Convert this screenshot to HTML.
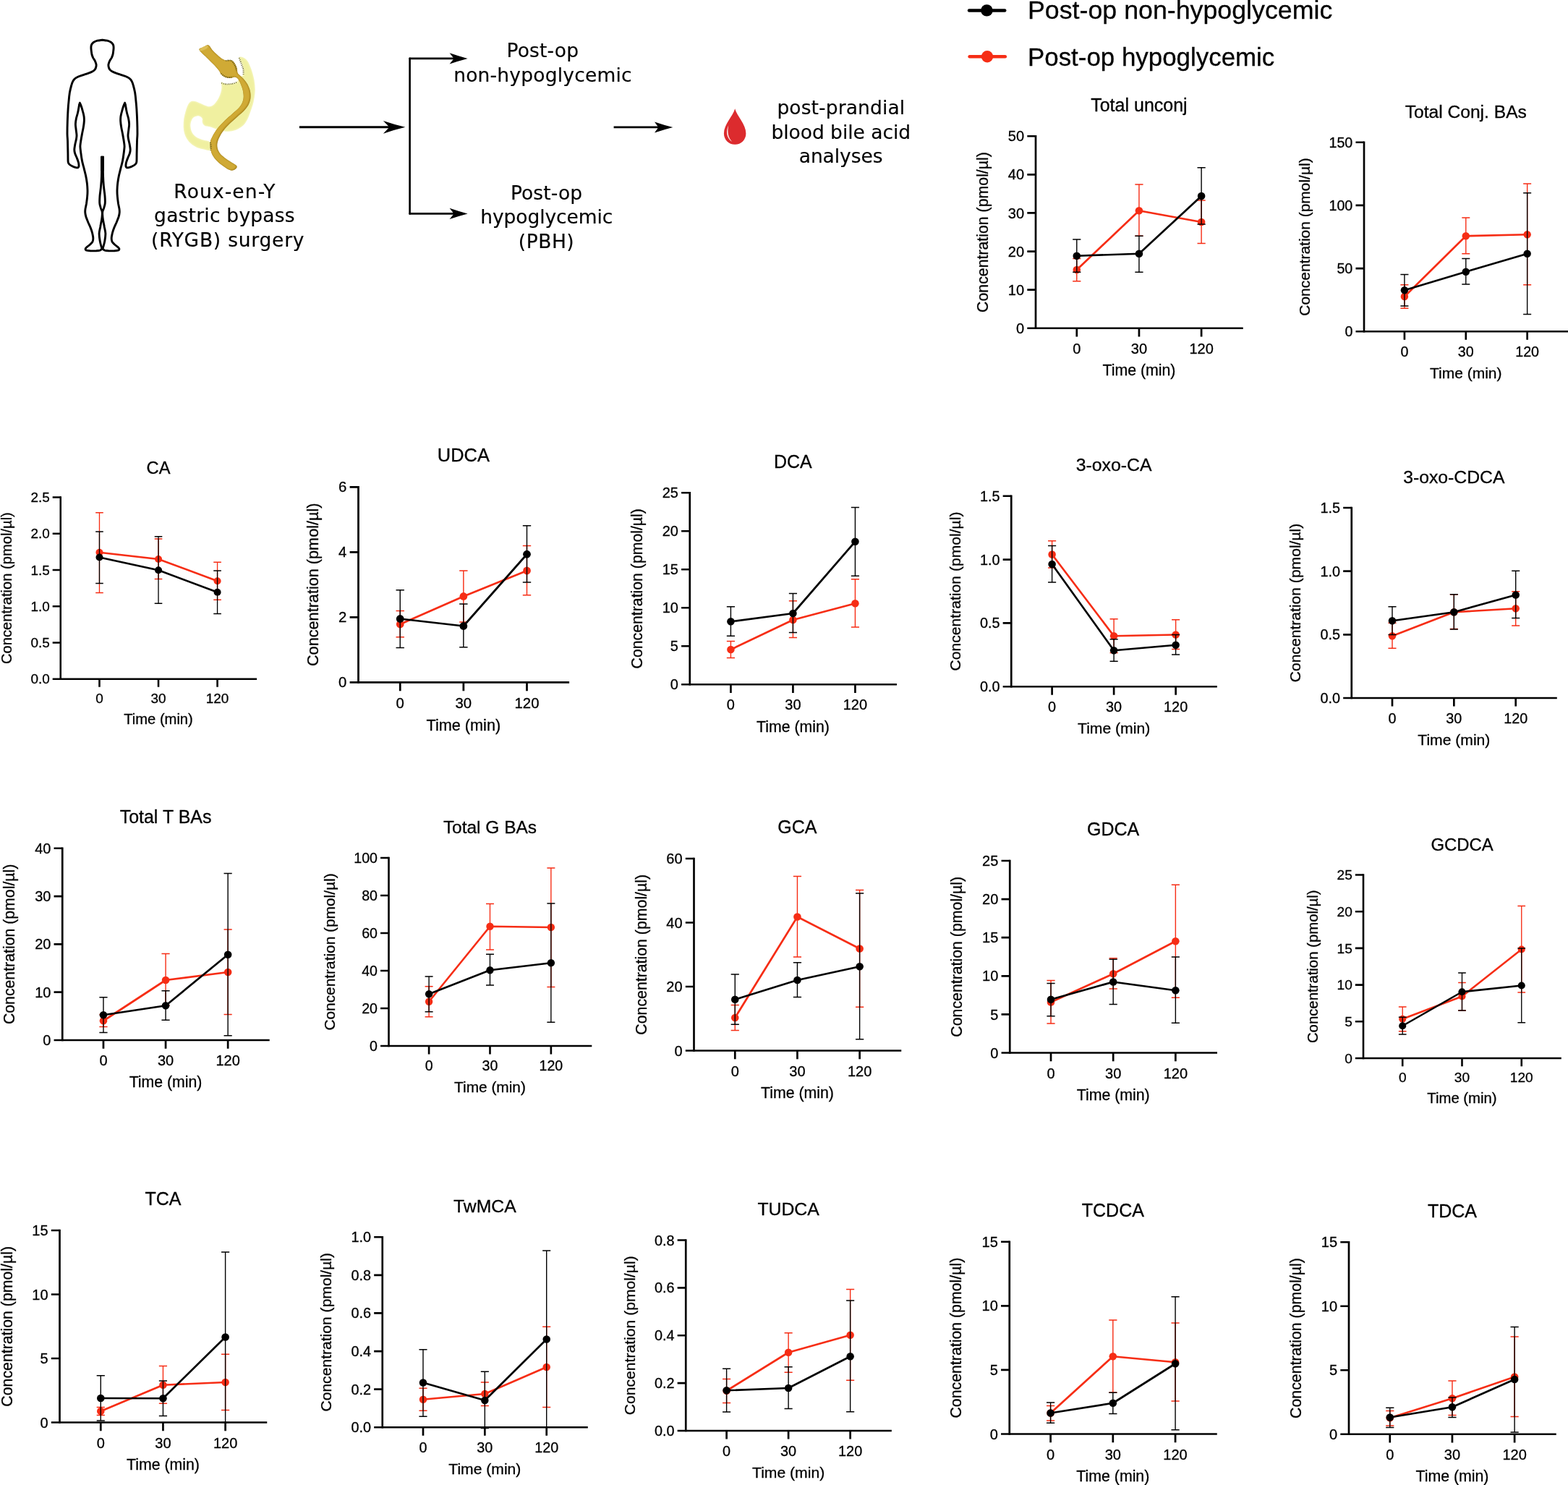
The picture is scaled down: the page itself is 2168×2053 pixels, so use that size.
<!DOCTYPE html>
<html lang="en">
<head>
<meta charset="utf-8">
<title>Post-prandial blood bile acid analyses after RYGB</title>
<style>
html,body{margin:0;padding:0;background:#fff;}
body{width:2168px;height:2053px;overflow:hidden;}
svg{display:block;}
svg text{font-family:"Liberation Sans", sans-serif;fill:#000;stroke:#000;stroke-width:.3px;}
svg .v text, svg text.v{font-family:"DejaVu Sans", sans-serif;stroke-width:.15px;}
</style>
</head>
<body>
<svg width="2168" height="2053" viewBox="0 0 2168 2053">
<rect width="2168" height="2053" fill="#fff"/>
<g id="schematic">
<path d="M141.5 55.2C140.4 55.4 136.8 55.7 134.8 56.2C132.9 56.7 131.1 57.5 129.7 58.3C128.4 59.2 127.4 60.3 126.7 61.5C126.1 62.7 125.9 64.1 125.9 65.6C125.8 67.1 126.1 69 126.3 70.7C126.5 72.4 126.7 74.3 127.1 75.8C127.6 77.4 128.1 78.7 128.8 80.1C129.6 81.5 130.7 82.9 131.4 84.3C132.1 85.8 132.7 87.3 132.9 88.6C133.2 89.9 133.2 90.8 132.9 92C132.7 93.2 132.2 94.7 131.4 95.9C130.6 97 129.7 97.9 128 98.8C126.3 99.8 123.7 100.7 121.2 101.6C118.6 102.5 115.1 103.5 112.6 104.4C110.2 105.2 108.3 105.8 106.7 106.7C105 107.5 103.9 108.4 102.8 109.5C101.8 110.6 101 111.9 100.3 113.3C99.6 114.8 99.2 116 98.6 118.5C97.9 120.9 97 124.6 96.4 127.8C95.9 131.1 95.5 134.2 95.2 138.1C94.8 141.9 94.4 145.9 94.1 150.9C93.8 155.8 93.5 162.2 93.3 167.9C93.1 173.6 93 180.6 93 185C93.1 189.4 93.3 189.9 93.5 194.3C93.6 198.7 93.8 206.5 93.9 211.3C94 216.2 93.9 220.7 94.1 223.3C94.4 225.8 94.6 225.8 95.6 226.8C96.5 227.9 98.3 228.9 99.9 229.7C101.4 230.5 103.7 231.3 105 231.6C106.2 232 106.9 232 107.5 231.8C108.2 231.5 108.8 231.2 109 230.1C109.1 228.9 109 227 108.6 225C108.1 223 107.1 220.3 106.2 218.1C105.4 216 104.3 214 103.7 212.2C103.1 210.3 102.8 209 102.8 207.1C102.8 205.1 103.3 202.7 103.7 200.2C104.1 197.8 105 194.8 105.4 192.6C105.8 190.3 106.1 189.1 106 186.7C105.9 184.3 105.2 180.7 105 178.2C104.7 175.6 104.3 173.8 104.4 171.3C104.4 168.9 104.9 166.2 105.4 163.7C105.9 161.1 107 158.4 107.5 156C108.1 153.6 108.5 151.1 108.8 149.2C109.2 147.2 109.4 145.6 109.7 144.5C109.9 143.3 110.3 142.7 110.4 142.3M141.5 55.2C142.6 55.4 146.2 55.7 148.2 56.2C150.1 56.7 151.9 57.5 153.3 58.3C154.6 59.2 155.6 60.3 156.3 61.5C156.9 62.7 157.1 64.1 157.1 65.6C157.2 67.1 156.9 69 156.7 70.7C156.5 72.4 156.3 74.3 155.9 75.8C155.4 77.4 154.9 78.7 154.2 80.1C153.4 81.5 152.3 82.9 151.6 84.3C150.9 85.8 150.3 87.3 150.1 88.6C149.8 89.9 149.8 90.8 150.1 92C150.3 93.2 150.8 94.7 151.6 95.9C152.4 97 153.3 97.9 155 98.8C156.7 99.8 159.3 100.7 161.8 101.6C164.4 102.5 167.9 103.5 170.4 104.4C172.8 105.2 174.7 105.8 176.3 106.7C178 107.5 179.1 108.4 180.2 109.5C181.2 110.6 182 111.9 182.7 113.3C183.4 114.8 183.8 116 184.4 118.5C185.1 120.9 186 124.6 186.6 127.8C187.1 131.1 187.5 134.2 187.8 138.1C188.2 141.9 188.6 145.9 188.9 150.9C189.2 155.8 189.5 162.2 189.7 167.9C189.9 173.6 190 180.6 190 185C189.9 189.4 189.7 189.9 189.5 194.3C189.4 198.7 189.2 206.5 189.1 211.3C189 216.2 189.1 220.7 188.9 223.3C188.6 225.8 188.4 225.8 187.4 226.8C186.5 227.9 184.7 228.9 183.1 229.7C181.6 230.5 179.3 231.3 178 231.6C176.8 232 176.1 232 175.5 231.8C174.8 231.5 174.2 231.2 174 230.1C173.9 228.9 174 227 174.4 225C174.9 223 175.9 220.3 176.8 218.1C177.6 216 178.7 214 179.3 212.2C179.9 210.3 180.2 209 180.2 207.1C180.2 205.1 179.7 202.7 179.3 200.2C178.9 197.8 178 194.8 177.6 192.6C177.2 190.3 176.9 189.1 177 186.7C177.1 184.3 177.8 180.7 178 178.2C178.3 175.6 178.7 173.8 178.6 171.3C178.6 168.9 178.1 166.2 177.6 163.7C177.1 161.1 176 158.4 175.5 156C174.9 153.6 174.5 151.1 174.2 149.2C173.8 147.2 173.6 145.6 173.3 144.5C173.1 143.3 172.7 142.7 172.6 142.3M110.4 142.3C110.7 143.1 111.6 144.8 112.2 146.6C112.9 148.5 113.7 151 114.3 153.4C115 155.8 115.7 158.7 116.1 161.1C116.4 163.5 116.5 165.4 116.3 167.9C116.2 170.5 115.7 173.6 115.2 176.5C114.7 179.3 114.1 181.7 113.5 185C112.9 188.3 112 193.1 111.6 196.1C111.2 199 110.9 200.3 110.9 202.8C111 205.3 111.4 208.1 111.8 211.3C112.2 214.6 112.8 218.9 113.5 222.4C114.2 226 115.2 229.2 116.1 232.6C116.9 236.1 117.9 239.5 118.6 242.9C119.3 246.3 119.9 249.8 120.3 253.1C120.7 256.4 120.9 259.5 121 262.5C121.1 265.5 121 267.9 120.7 271C120.5 274.2 119.9 278.3 119.5 281.3C119 284.2 118.3 286.8 118 288.9C117.7 291.1 117.6 292.2 117.8 294.1C117.9 295.9 118.3 297.7 119 300C119.8 302.3 121 305.1 122 307.7C123.1 310.3 124.5 313 125.4 315.4C126.4 317.8 127 319.9 127.6 322.2C128.1 324.5 128.8 327 128.8 329C128.9 331 128.7 332.6 128 334.1C127.3 335.6 125.9 336.8 124.6 338C123.3 339.2 121.4 340.4 120.3 341.4C119.3 342.4 118.4 343.2 118.2 343.9C118 344.7 118 345.4 119 345.9C120.1 346.4 122.2 346.6 124.6 346.8C126.9 346.9 130.8 346.9 133.1 346.8C135.4 346.6 137 346.4 138.2 346.1C139.5 345.7 139.9 345.1 140.4 344.5C141 344 141.2 343 141.3 342.7M172.6 142.3C172.3 143.1 171.4 144.8 170.8 146.6C170.1 148.5 169.3 151 168.7 153.4C168 155.8 167.3 158.7 166.9 161.1C166.6 163.5 166.5 165.4 166.7 167.9C166.8 170.5 167.3 173.6 167.8 176.5C168.3 179.3 168.9 181.7 169.5 185C170.1 188.3 171 193.1 171.4 196.1C171.8 199 172.1 200.3 172.1 202.8C172 205.3 171.6 208.1 171.2 211.3C170.8 214.6 170.2 218.9 169.5 222.4C168.8 226 167.8 229.2 166.9 232.6C166.1 236.1 165.1 239.5 164.4 242.9C163.7 246.3 163.1 249.8 162.7 253.1C162.3 256.4 162.1 259.5 162 262.5C161.9 265.5 162 267.9 162.3 271C162.5 274.2 163.1 278.3 163.5 281.3C164 284.2 164.7 286.8 165 288.9C165.3 291.1 165.4 292.2 165.2 294.1C165.1 295.9 164.7 297.7 164 300C163.2 302.3 162 305.1 161 307.7C159.9 310.3 158.5 313 157.6 315.4C156.6 317.8 156 319.9 155.4 322.2C154.9 324.5 154.2 327 154.2 329C154.1 331 154.3 332.6 155 334.1C155.7 335.6 157.1 336.8 158.4 338C159.7 339.2 161.6 340.4 162.7 341.4C163.7 342.4 164.6 343.2 164.8 343.9C165 344.7 165 345.4 164 345.9C162.9 346.4 160.8 346.6 158.4 346.8C156.1 346.9 152.2 346.9 149.9 346.8C147.6 346.6 146 346.4 144.8 346.1C143.5 345.7 143.1 345.1 142.6 344.5C142 344 141.8 343 141.7 342.7M140.6 216.9C140.6 219.5 140.6 228 140.6 232.6C140.6 237.3 140.6 240.3 140.4 244.6C140.3 248.8 139.9 253.8 139.5 258.2C139.1 262.6 138.3 267.2 138 271C137.7 274.9 137.5 278.4 137.8 281.3C138.1 284.1 139 286.2 139.5 288.1C140.1 289.9 140.8 290.9 141.1 292.3C141.4 293.8 141.4 294.8 141.3 296.6C141.2 298.5 141.1 300.6 140.6 303.4C140.2 306.3 139.2 310.4 138.7 313.7C138.1 316.9 137.2 319.8 137.1 323C137.1 326.3 137.7 330.3 138.2 333.3C138.7 336.3 139.6 339.1 140.1 341C140.6 342.8 141.1 343.8 141.3 344.4M142.4 216.9C142.4 219.5 142.4 228 142.4 232.6C142.4 237.3 142.4 240.3 142.6 244.6C142.7 248.8 143.1 253.8 143.5 258.2C143.9 262.6 144.7 267.2 145 271C145.3 274.9 145.5 278.4 145.2 281.3C144.9 284.1 144 286.2 143.5 288.1C142.9 289.9 142.2 290.9 141.9 292.3C141.6 293.8 141.6 294.8 141.7 296.6C141.8 298.5 141.9 300.6 142.4 303.4C142.8 306.3 143.8 310.4 144.3 313.7C144.9 316.9 145.8 319.8 145.9 323C145.9 326.3 145.3 330.3 144.8 333.3C144.3 336.3 143.4 339.1 142.9 341C142.4 342.8 141.9 343.8 141.7 344.4" fill="none" stroke="#000" stroke-width="2.9" stroke-linecap="round" stroke-linejoin="round"/>
<path d="M139.1 216.2h4.8v20h-4.8z" fill="#000"/>
<defs><clipPath id="cpp"><path d="M305.9 113.3C306.8 112.5 309.4 115.7 312 116C314.5 116.4 318.6 116.1 321.1 115.6C323.6 115.2 325.3 114.8 327.2 113.3C329 111.8 330.7 108.5 332.2 106.7C333.8 104.9 335.8 105.4 336.3 102.7C336.8 100 336.3 94.4 335.3 90.5C334.3 86.7 330 81.4 330.2 79.6C330.4 77.7 334.3 78.6 336.3 79.4C338.3 80.2 340.5 81.7 342.4 84.4C344.2 87.1 345.9 91.2 347.4 95.6C348.9 100 350.6 105.7 351.5 110.8C352.4 115.8 352.9 120.9 352.7 126C352.5 131 351.5 136.4 350.5 141.2C349.4 145.9 347.8 150.4 346.4 154.3C345.1 158.2 344.1 161.2 342.4 164.5C340.7 167.7 339 171 336.3 173.6C333.6 176.1 329.5 178.5 326.2 179.8C322.8 181.2 318.9 181.5 316 181.7C313.2 181.9 311.6 181.6 308.9 181.2C306.2 180.7 302.7 179.7 299.8 178.8C297 177.9 294.3 176.5 291.7 175.8C289.2 175.1 286.5 175.3 284.6 174.6C282.8 173.9 281.6 172.7 280.8 171.5C279.9 170.4 279.7 168.7 279.6 167.5C279.4 166.3 280.2 165.5 279.9 164.5C279.5 163.4 278.8 162.1 277.5 161.4C276.3 160.7 274.2 160.2 272.5 160.4C270.8 160.6 268.8 161.2 267.4 162.4C266.1 163.6 265 165.5 264.4 167.5C263.7 169.5 263.2 172.1 263.4 174.6C263.5 177.1 264.2 180.3 265.4 182.7C266.6 185 268.3 187.1 270.5 188.8C272.6 190.5 275.3 191.6 278.6 192.8C281.8 194 288 194.5 290.2 196.1C292.4 197.6 291.6 199.9 291.7 201.9C291.8 203.9 292.8 207.3 290.9 208C289.1 208.7 284 207 280.6 206.2C277.2 205.3 273.7 204.7 270.5 202.9C267.2 201.2 263.8 198.6 261.3 195.9C258.9 193.2 257 189.9 255.8 186.7C254.5 183.5 254 180.3 253.7 176.6C253.5 172.9 253.7 168.3 254.2 164.5C254.8 160.6 255.8 156.7 256.8 153.3C257.8 149.9 259.1 146.4 260.3 144.2C261.6 142 262.9 140.8 264.4 140.1C265.9 139.5 267.6 139.8 269.4 140.1C271.3 140.5 273.2 141.2 275.5 142.2C277.9 143.1 281.3 144.9 283.6 145.7C286 146.6 287.7 147.5 289.7 147.2C291.7 147 293.9 145.9 295.8 144.4C297.6 142.9 299.3 140.7 300.8 138.1C302.4 135.6 304 131.9 304.9 129C305.8 126.1 306.2 123.5 306.4 120.9C306.6 118.3 305 114.1 305.9 113.3Z"/></clipPath><clipPath id="cpg"><path d="M275.5 68.7C276.2 71.1 282.3 75.9 285.6 79.4C289 82.8 292.9 86.4 295.8 89.5C298.6 92.6 301.3 95.8 302.9 97.8C304.4 99.8 304 100.5 304.9 101.7C305.7 102.8 306.6 103.8 307.9 104.7C309.3 105.6 311.1 106.7 313 107.2C314.8 107.8 317.2 108.1 319.1 107.9C320.9 107.8 322.6 106.5 324.1 106.5C325.7 106.6 327 107.2 328.2 108.2C329.4 109.3 330 110.3 331.2 112.8C332.4 115.2 334.3 119.5 335.3 122.9C336.2 126.3 336.8 130 336.8 133.1C336.8 136.1 336.4 138.5 335.3 141.2C334.2 143.9 332.6 146.6 330.2 149.3C327.8 152 324.3 154.5 321.1 157.4C317.9 160.2 314.3 163.1 311 166.5C307.6 169.9 303.7 173.9 300.8 177.6C298 181.3 295.4 185.6 293.7 188.8C292.1 192 291.1 193.8 290.7 196.9C290.3 199.9 290.5 203.8 291.2 207C291.9 210.2 293 213.2 294.8 216.1C296.5 219 299.1 221.7 301.8 224.2C304.5 226.7 308.4 229.5 311 231.3C313.5 233.1 315.2 234.1 317 234.8C318.9 235.6 320.5 235.9 322.1 235.6C323.7 235.2 325.8 233.8 326.7 232.8C327.5 231.8 328 230.6 327.4 229.5C326.8 228.4 325.2 227.6 323.1 226.2C321.1 224.9 317.7 223 315 221.2C312.3 219.3 309.1 217.3 306.9 215.1C304.7 212.9 302.9 210.5 301.8 208C300.8 205.5 300.2 202.8 300.3 199.9C300.5 197 301.4 194 302.9 190.8C304.3 187.6 306.4 184 308.9 180.7C311.5 177.3 314.8 173.7 318.1 170.5C321.3 167.3 325 164.3 328.2 161.4C331.4 158.5 334.8 156 337.3 153.3C339.8 150.6 341.9 148.1 343.4 145.2C344.9 142.3 346 139.3 346.4 136.1C346.8 132.9 346.6 129.2 345.9 126C345.2 122.8 343.8 119.5 342.4 116.8C340.9 114.1 339 111.8 337.3 109.8C335.6 107.7 333.7 106.1 332.2 104.7C330.8 103.3 329.4 102.8 328.7 101.1C327.9 99.5 328.2 96.5 327.7 94.6C327.2 92.6 326.6 91.2 325.7 89.5C324.7 87.8 323.4 85.7 322.1 84.6C320.8 83.5 319.7 83.1 318.1 82.9C316.4 82.7 314 83.8 312 83.4C310 83 307.9 81.7 305.9 80.4C303.9 79 301.8 77.2 299.8 75.3C297.8 73.5 295.7 71.4 293.7 69.2C291.8 67.1 290.2 63.1 288.2 62.5C286.1 61.8 283.7 64.1 281.6 65.2C279.5 66.2 274.8 66.4 275.5 68.7Z"/></clipPath><filter id="bl1" x="-20%" y="-20%" width="140%" height="140%"><feGaussianBlur stdDeviation="1.6"/></filter><filter id="bl2" x="-20%" y="-20%" width="140%" height="140%"><feGaussianBlur stdDeviation="1.3"/></filter></defs>
<path d="M305.9 113.3C306.8 112.5 309.4 115.7 312 116C314.5 116.4 318.6 116.1 321.1 115.6C323.6 115.2 325.3 114.8 327.2 113.3C329 111.8 330.7 108.5 332.2 106.7C333.8 104.9 335.8 105.4 336.3 102.7C336.8 100 336.3 94.4 335.3 90.5C334.3 86.7 330 81.4 330.2 79.6C330.4 77.7 334.3 78.6 336.3 79.4C338.3 80.2 340.5 81.7 342.4 84.4C344.2 87.1 345.9 91.2 347.4 95.6C348.9 100 350.6 105.7 351.5 110.8C352.4 115.8 352.9 120.9 352.7 126C352.5 131 351.5 136.4 350.5 141.2C349.4 145.9 347.8 150.4 346.4 154.3C345.1 158.2 344.1 161.2 342.4 164.5C340.7 167.7 339 171 336.3 173.6C333.6 176.1 329.5 178.5 326.2 179.8C322.8 181.2 318.9 181.5 316 181.7C313.2 181.9 311.6 181.6 308.9 181.2C306.2 180.7 302.7 179.7 299.8 178.8C297 177.9 294.3 176.5 291.7 175.8C289.2 175.1 286.5 175.3 284.6 174.6C282.8 173.9 281.6 172.7 280.8 171.5C279.9 170.4 279.7 168.7 279.6 167.5C279.4 166.3 280.2 165.5 279.9 164.5C279.5 163.4 278.8 162.1 277.5 161.4C276.3 160.7 274.2 160.2 272.5 160.4C270.8 160.6 268.8 161.2 267.4 162.4C266.1 163.6 265 165.5 264.4 167.5C263.7 169.5 263.2 172.1 263.4 174.6C263.5 177.1 264.2 180.3 265.4 182.7C266.6 185 268.3 187.1 270.5 188.8C272.6 190.5 275.3 191.6 278.6 192.8C281.8 194 288 194.5 290.2 196.1C292.4 197.6 291.6 199.9 291.7 201.9C291.8 203.9 292.8 207.3 290.9 208C289.1 208.7 284 207 280.6 206.2C277.2 205.3 273.7 204.7 270.5 202.9C267.2 201.2 263.8 198.6 261.3 195.9C258.9 193.2 257 189.9 255.8 186.7C254.5 183.5 254 180.3 253.7 176.6C253.5 172.9 253.7 168.3 254.2 164.5C254.8 160.6 255.8 156.7 256.8 153.3C257.8 149.9 259.1 146.4 260.3 144.2C261.6 142 262.9 140.8 264.4 140.1C265.9 139.5 267.6 139.8 269.4 140.1C271.3 140.5 273.2 141.2 275.5 142.2C277.9 143.1 281.3 144.9 283.6 145.7C286 146.6 287.7 147.5 289.7 147.2C291.7 147 293.9 145.9 295.8 144.4C297.6 142.9 299.3 140.7 300.8 138.1C302.4 135.6 304 131.9 304.9 129C305.8 126.1 306.2 123.5 306.4 120.9C306.6 118.3 305 114.1 305.9 113.3Z" fill="#fbfbdc"/>
<g clip-path="url(#cpp)"><path d="M305.9 113.3C306.8 112.5 309.4 115.7 312 116C314.5 116.4 318.6 116.1 321.1 115.6C323.6 115.2 325.3 114.8 327.2 113.3C329 111.8 330.7 108.5 332.2 106.7C333.8 104.9 335.8 105.4 336.3 102.7C336.8 100 336.3 94.4 335.3 90.5C334.3 86.7 330 81.4 330.2 79.6C330.4 77.7 334.3 78.6 336.3 79.4C338.3 80.2 340.5 81.7 342.4 84.4C344.2 87.1 345.9 91.2 347.4 95.6C348.9 100 350.6 105.7 351.5 110.8C352.4 115.8 352.9 120.9 352.7 126C352.5 131 351.5 136.4 350.5 141.2C349.4 145.9 347.8 150.4 346.4 154.3C345.1 158.2 344.1 161.2 342.4 164.5C340.7 167.7 339 171 336.3 173.6C333.6 176.1 329.5 178.5 326.2 179.8C322.8 181.2 318.9 181.5 316 181.7C313.2 181.9 311.6 181.6 308.9 181.2C306.2 180.7 302.7 179.7 299.8 178.8C297 177.9 294.3 176.5 291.7 175.8C289.2 175.1 286.5 175.3 284.6 174.6C282.8 173.9 281.6 172.7 280.8 171.5C279.9 170.4 279.7 168.7 279.6 167.5C279.4 166.3 280.2 165.5 279.9 164.5C279.5 163.4 278.8 162.1 277.5 161.4C276.3 160.7 274.2 160.2 272.5 160.4C270.8 160.6 268.8 161.2 267.4 162.4C266.1 163.6 265 165.5 264.4 167.5C263.7 169.5 263.2 172.1 263.4 174.6C263.5 177.1 264.2 180.3 265.4 182.7C266.6 185 268.3 187.1 270.5 188.8C272.6 190.5 275.3 191.6 278.6 192.8C281.8 194 288 194.5 290.2 196.1C292.4 197.6 291.6 199.9 291.7 201.9C291.8 203.9 292.8 207.3 290.9 208C289.1 208.7 284 207 280.6 206.2C277.2 205.3 273.7 204.7 270.5 202.9C267.2 201.2 263.8 198.6 261.3 195.9C258.9 193.2 257 189.9 255.8 186.7C254.5 183.5 254 180.3 253.7 176.6C253.5 172.9 253.7 168.3 254.2 164.5C254.8 160.6 255.8 156.7 256.8 153.3C257.8 149.9 259.1 146.4 260.3 144.2C261.6 142 262.9 140.8 264.4 140.1C265.9 139.5 267.6 139.8 269.4 140.1C271.3 140.5 273.2 141.2 275.5 142.2C277.9 143.1 281.3 144.9 283.6 145.7C286 146.6 287.7 147.5 289.7 147.2C291.7 147 293.9 145.9 295.8 144.4C297.6 142.9 299.3 140.7 300.8 138.1C302.4 135.6 304 131.9 304.9 129C305.8 126.1 306.2 123.5 306.4 120.9C306.6 118.3 305 114.1 305.9 113.3Z" fill="#f0f0a0" filter="url(#bl1)"/></g>
<path d="M275.5 68.7C276.2 71.1 282.3 75.9 285.6 79.4C289 82.8 292.9 86.4 295.8 89.5C298.6 92.6 301.3 95.8 302.9 97.8C304.4 99.8 304 100.5 304.9 101.7C305.7 102.8 306.6 103.8 307.9 104.7C309.3 105.6 311.1 106.7 313 107.2C314.8 107.8 317.2 108.1 319.1 107.9C320.9 107.8 322.6 106.5 324.1 106.5C325.7 106.6 327 107.2 328.2 108.2C329.4 109.3 330 110.3 331.2 112.8C332.4 115.2 334.3 119.5 335.3 122.9C336.2 126.3 336.8 130 336.8 133.1C336.8 136.1 336.4 138.5 335.3 141.2C334.2 143.9 332.6 146.6 330.2 149.3C327.8 152 324.3 154.5 321.1 157.4C317.9 160.2 314.3 163.1 311 166.5C307.6 169.9 303.7 173.9 300.8 177.6C298 181.3 295.4 185.6 293.7 188.8C292.1 192 291.1 193.8 290.7 196.9C290.3 199.9 290.5 203.8 291.2 207C291.9 210.2 293 213.2 294.8 216.1C296.5 219 299.1 221.7 301.8 224.2C304.5 226.7 308.4 229.5 311 231.3C313.5 233.1 315.2 234.1 317 234.8C318.9 235.6 320.5 235.9 322.1 235.6C323.7 235.2 325.8 233.8 326.7 232.8C327.5 231.8 328 230.6 327.4 229.5C326.8 228.4 325.2 227.6 323.1 226.2C321.1 224.9 317.7 223 315 221.2C312.3 219.3 309.1 217.3 306.9 215.1C304.7 212.9 302.9 210.5 301.8 208C300.8 205.5 300.2 202.8 300.3 199.9C300.5 197 301.4 194 302.9 190.8C304.3 187.6 306.4 184 308.9 180.7C311.5 177.3 314.8 173.7 318.1 170.5C321.3 167.3 325 164.3 328.2 161.4C331.4 158.5 334.8 156 337.3 153.3C339.8 150.6 341.9 148.1 343.4 145.2C344.9 142.3 346 139.3 346.4 136.1C346.8 132.9 346.6 129.2 345.9 126C345.2 122.8 343.8 119.5 342.4 116.8C340.9 114.1 339 111.8 337.3 109.8C335.6 107.7 333.7 106.1 332.2 104.7C330.8 103.3 329.4 102.8 328.7 101.1C327.9 99.5 328.2 96.5 327.7 94.6C327.2 92.6 326.6 91.2 325.7 89.5C324.7 87.8 323.4 85.7 322.1 84.6C320.8 83.5 319.7 83.1 318.1 82.9C316.4 82.7 314 83.8 312 83.4C310 83 307.9 81.7 305.9 80.4C303.9 79 301.8 77.2 299.8 75.3C297.8 73.5 295.7 71.4 293.7 69.2C291.8 67.1 290.2 63.1 288.2 62.5C286.1 61.8 283.7 64.1 281.6 65.2C279.5 66.2 274.8 66.4 275.5 68.7Z" fill="#9a7612"/>
<g clip-path="url(#cpg)"><path d="M275.5 68.7C276.2 71.1 282.3 75.9 285.6 79.4C289 82.8 292.9 86.4 295.8 89.5C298.6 92.6 301.3 95.8 302.9 97.8C304.4 99.8 304 100.5 304.9 101.7C305.7 102.8 306.6 103.8 307.9 104.7C309.3 105.6 311.1 106.7 313 107.2C314.8 107.8 317.2 108.1 319.1 107.9C320.9 107.8 322.6 106.5 324.1 106.5C325.7 106.6 327 107.2 328.2 108.2C329.4 109.3 330 110.3 331.2 112.8C332.4 115.2 334.3 119.5 335.3 122.9C336.2 126.3 336.8 130 336.8 133.1C336.8 136.1 336.4 138.5 335.3 141.2C334.2 143.9 332.6 146.6 330.2 149.3C327.8 152 324.3 154.5 321.1 157.4C317.9 160.2 314.3 163.1 311 166.5C307.6 169.9 303.7 173.9 300.8 177.6C298 181.3 295.4 185.6 293.7 188.8C292.1 192 291.1 193.8 290.7 196.9C290.3 199.9 290.5 203.8 291.2 207C291.9 210.2 293 213.2 294.8 216.1C296.5 219 299.1 221.7 301.8 224.2C304.5 226.7 308.4 229.5 311 231.3C313.5 233.1 315.2 234.1 317 234.8C318.9 235.6 320.5 235.9 322.1 235.6C323.7 235.2 325.8 233.8 326.7 232.8C327.5 231.8 328 230.6 327.4 229.5C326.8 228.4 325.2 227.6 323.1 226.2C321.1 224.9 317.7 223 315 221.2C312.3 219.3 309.1 217.3 306.9 215.1C304.7 212.9 302.9 210.5 301.8 208C300.8 205.5 300.2 202.8 300.3 199.9C300.5 197 301.4 194 302.9 190.8C304.3 187.6 306.4 184 308.9 180.7C311.5 177.3 314.8 173.7 318.1 170.5C321.3 167.3 325 164.3 328.2 161.4C331.4 158.5 334.8 156 337.3 153.3C339.8 150.6 341.9 148.1 343.4 145.2C344.9 142.3 346 139.3 346.4 136.1C346.8 132.9 346.6 129.2 345.9 126C345.2 122.8 343.8 119.5 342.4 116.8C340.9 114.1 339 111.8 337.3 109.8C335.6 107.7 333.7 106.1 332.2 104.7C330.8 103.3 329.4 102.8 328.7 101.1C327.9 99.5 328.2 96.5 327.7 94.6C327.2 92.6 326.6 91.2 325.7 89.5C324.7 87.8 323.4 85.7 322.1 84.6C320.8 83.5 319.7 83.1 318.1 82.9C316.4 82.7 314 83.8 312 83.4C310 83 307.9 81.7 305.9 80.4C303.9 79 301.8 77.2 299.8 75.3C297.8 73.5 295.7 71.4 293.7 69.2C291.8 67.1 290.2 63.1 288.2 62.5C286.1 61.8 283.7 64.1 281.6 65.2C279.5 66.2 274.8 66.4 275.5 68.7Z" fill="#d0aa34" filter="url(#bl2)" transform="translate(-0.8 -0.5)"/></g>
<ellipse cx="281.8" cy="66.8" rx="6.6" ry="2.3" transform="rotate(-27 281.8 66.8)" fill="#dcbe55"/>
<path d="M306.4 114.8C307.3 115.1 309.5 116.2 312 116.3C314.4 116.5 318.5 116.3 321.1 115.8C323.7 115.4 326.3 114 327.4 113.6" fill="none" stroke="#4f4a18" stroke-width="2" stroke-dasharray="0.9 1.6"/>
<path d="M330.7 80.2C331.2 81.6 332.8 85.9 333.8 88.5C334.7 91.1 335.8 93.2 336.3 95.6C336.7 97.9 336.5 101.5 336.5 102.7" fill="none" stroke="#4f4a18" stroke-width="2" stroke-dasharray="0.9 1.6"/>
<path d="M312.5 83.9C313.6 83.9 317.3 83 319.1 83.6C320.8 84.2 321.8 86 322.9 87.5C324 89 325 90.9 325.7 92.5C326.3 94.2 326.5 96.8 326.7 97.6" fill="none" stroke="#4f4a18" stroke-width="2" stroke-dasharray="0.9 1.6"/>
<path d="M305.9 101.7C306.6 102.2 308.4 104.3 310 105.2C311.5 106.1 313.3 106.7 315 106.9C316.7 107.2 319.2 106.8 320.1 106.7" fill="none" stroke="#4f4a18" stroke-width="2" stroke-dasharray="0.9 1.6"/>
<path d="M290.9 196.9C291 197.7 291.7 200.2 291.7 201.9C291.8 203.7 291.3 206.6 291.2 207.5" fill="none" stroke="#4f4a18" stroke-width="2" stroke-dasharray="0.9 1.6"/>
<path d="M413.9 175.8H539.4" stroke="#000" stroke-width="3.1" fill="none" stroke-linecap="butt"/><path d="M560.4 175.8Q545.1 172.2 529.9 167Q535.2 172.5 538.4 175.8Q535.2 179.2 529.9 184.7Q545.1 179.5 560.4 175.8Z" fill="#000"/>
<path d="M566.6 80.9V295.4" stroke="#000" stroke-width="2.6" fill="none" stroke-linecap="round"/>
<path d="M566.6 80.9H628.6" stroke="#000" stroke-width="2.6" fill="none" stroke-linecap="round"/><path d="M646.6 80.9Q634.1 77.7 621.6 73.3Q625.3 78 627.6 80.9Q625.3 83.8 621.6 88.5Q634.1 84.1 646.6 80.9Z" fill="#000"/>
<path d="M566.6 295.4H628.6" stroke="#000" stroke-width="2.6" fill="none" stroke-linecap="round"/><path d="M646.6 295.4Q634.1 292.2 621.6 287.8Q625.3 292.5 627.6 295.4Q625.3 298.3 621.6 303Q634.1 298.6 646.6 295.4Z" fill="#000"/>
<path d="M848.6 175.9H911.4" stroke="#000" stroke-width="2.8" fill="none" stroke-linecap="butt"/><path d="M930.4 175.9Q917.7 172.8 905 168.4Q908.3 173.1 910.4 175.9Q908.3 178.8 905 183.4Q917.7 179.1 930.4 175.9Z" fill="#000"/>
<path d="M1016.2 150.2C1013.4 160.5 1000.9 171.6 1000.9 184.4C1000.9 193.2 1007.6 199.8 1016.2 199.8C1024.8 199.8 1031.4 193.2 1031.4 184.4C1031.4 171.6 1019 160.5 1016.2 150.2Z" fill="#dc2b2e"/>
<path d="M1007.3 173.2C1003.6 180.6 1003.8 190.8 1012.4 196.1C1006.6 190.2 1005.4 182 1007.3 173.2Z" fill="#fff" opacity=".92"/>
<text class="v" x="240.3" y="273.6" font-size="26.5" textLength="140.1" lengthAdjust="spacing">Roux-en-Y</text>
<text class="v" x="213.1" y="306.7" font-size="26.5" textLength="194.5" lengthAdjust="spacing">gastric bypass</text>
<text class="v" x="209.1" y="341" font-size="26.5" textLength="211.4" lengthAdjust="spacing">(RYGB) surgery</text>
<text class="v" x="700.4" y="79" font-size="26.5" textLength="99.7" lengthAdjust="spacing">Post-op</text>
<text class="v" x="627.2" y="112.7" font-size="26.5" textLength="246.4" lengthAdjust="spacing">non-hypoglycemic</text>
<text class="v" x="705.9" y="275.8" font-size="26.5" textLength="99.2" lengthAdjust="spacing">Post-op</text>
<text class="v" x="664.3" y="309.4" font-size="26.5" textLength="183" lengthAdjust="spacing">hypoglycemic</text>
<text class="v" x="716.8" y="343.4" font-size="26.5" textLength="76.9" lengthAdjust="spacing">(PBH)</text>
<text class="v" x="1074.4" y="157.7" font-size="26.5" textLength="176.8" lengthAdjust="spacing">post-prandial</text>
<text class="v" x="1066.5" y="191.8" font-size="26.5" textLength="192.6" lengthAdjust="spacing">blood bile acid</text>
<text class="v" x="1104.7" y="225.3" font-size="26.5" textLength="115.8" lengthAdjust="spacing">analyses</text>
</g>
<g font-size="35.4">
<path d="M1340 14.4H1389.2" stroke="#000" stroke-width="4.5" stroke-linecap="round"/>
<circle cx="1364.4" cy="14.4" r="8.2" fill="#000"/>
<text x="1421" y="26.4" font-size="35.75">Post-op non-hypoglycemic</text>
<path d="M1340.6 78.2H1389.8" stroke="#f62d15" stroke-width="4.5" stroke-linecap="round"/>
<circle cx="1365" cy="78.2" r="8.2" fill="#f62d15"/>
<text x="1421" y="90.8" font-size="34.9">Post-op hypoglycemic</text>
</g>
<g class="chart">
<path d="M1432 186.9V455.1" stroke="#000" stroke-width="2.7" fill="none"/>
<path d="M1420.3 453.75H1718.74" stroke="#000" stroke-width="2.7" fill="none"/>
<path d="M1420.3 400.65H1432M1420.3 347.55H1432M1420.3 294.45H1432M1420.3 241.35H1432M1420.3 188.25H1432M1488.77 453.75V465.45M1574.94 453.75V465.45M1661.11 453.75V465.45" stroke="#000" stroke-width="2.7" fill="none"/>
<g font-size="20" text-anchor="end">
<text x="1416.1" y="460.85">0</text>
<text x="1416.1" y="407.75">10</text>
<text x="1416.1" y="354.65">20</text>
<text x="1416.1" y="301.55">30</text>
<text x="1416.1" y="248.45">40</text>
<text x="1416.1" y="195.35">50</text>
</g>
<g font-size="20" text-anchor="middle">
<text x="1488.77" y="488.75">0</text>
<text x="1574.94" y="488.75">30</text>
<text x="1661.11" y="488.75">120</text>
</g>
<text font-size="21.3" text-anchor="middle" x="1574.94" y="519.15">Time (min)</text>
<text font-size="21.3" text-anchor="middle" transform="translate(1365.85 321) rotate(-90)">Concentration (pmol/µl)</text>
<text font-size="25" text-anchor="middle" x="1574.94" y="153.55">Total unconj</text>
<path d="M1488.77 357.5V388.75M1574.94 255V326.25M1661.11 277V336.5" stroke="#f62d15" stroke-width="1.4" fill="none"/>
<path d="M1483.17 357.5h11.2M1483.17 388.75h11.2M1569.34 255h11.2M1569.34 326.25h11.2M1655.51 277h11.2M1655.51 336.5h11.2" stroke="#f62d15" stroke-width="1.6" fill="none"/>
<path d="M1488.77 373L1574.94 291.25L1661.11 307" stroke="#f62d15" stroke-width="2.7" fill="none" stroke-linejoin="round"/>
<circle cx="1488.77" cy="373" r="5.3" fill="#f62d15"/>
<circle cx="1574.94" cy="291.25" r="5.3" fill="#f62d15"/>
<circle cx="1661.11" cy="307" r="5.3" fill="#f62d15"/>
<path d="M1488.77 331V376.25M1574.94 326.25V376.25M1661.11 231.75V310" stroke="#000" stroke-width="1.4" fill="none"/>
<path d="M1483.17 331h11.2M1483.17 376.25h11.2M1569.34 326.25h11.2M1569.34 376.25h11.2M1655.51 231.75h11.2M1655.51 310h11.2" stroke="#000" stroke-width="1.6" fill="none"/>
<path d="M1488.77 353.75L1574.94 350.75L1661.11 271" stroke="#000" stroke-width="2.7" fill="none" stroke-linejoin="round"/>
<circle cx="1488.77" cy="353.75" r="5.3" fill="#000"/>
<circle cx="1574.94" cy="350.75" r="5.3" fill="#000"/>
<circle cx="1661.11" cy="271" r="5.3" fill="#000"/>
</g>
<g class="chart">
<path d="M1886 195.42V459.58" stroke="#000" stroke-width="2.66" fill="none"/>
<path d="M1874.48 458.25H2168.42" stroke="#000" stroke-width="2.66" fill="none"/>
<path d="M1874.48 371.08H1886M1874.48 283.92H1886M1874.48 196.75H1886M1941.92 458.25V469.77M2026.79 458.25V469.77M2111.65 458.25V469.77" stroke="#000" stroke-width="2.66" fill="none"/>
<g font-size="19.7" text-anchor="end">
<text x="1870.34" y="465.24">0</text>
<text x="1870.34" y="378.08">50</text>
<text x="1870.34" y="290.91">100</text>
<text x="1870.34" y="203.74">150</text>
</g>
<g font-size="19.7" text-anchor="middle">
<text x="1941.92" y="492.72">0</text>
<text x="2026.79" y="492.72">30</text>
<text x="2111.65" y="492.72">120</text>
</g>
<text font-size="20.98" text-anchor="middle" x="2026.79" y="522.66">Time (min)</text>
<text font-size="20.98" text-anchor="middle" transform="translate(1810.75 327.5) rotate(-90)">Concentration (pmol/µl)</text>
<text font-size="24.62" text-anchor="middle" x="2026.79" y="162.57">Total Conj. BAs</text>
<path d="M1941.92 393.75V426.25M2026.79 301V350.75M2111.65 254V393.75" stroke="#f62d15" stroke-width="1.38" fill="none"/>
<path d="M1936.4 393.75h11.03M1936.4 426.25h11.03M2021.27 301h11.03M2021.27 350.75h11.03M2106.14 254h11.03M2106.14 393.75h11.03" stroke="#f62d15" stroke-width="1.58" fill="none"/>
<path d="M1941.92 410L2026.79 326.25L2111.65 324.25" stroke="#f62d15" stroke-width="2.66" fill="none" stroke-linejoin="round"/>
<circle cx="1941.92" cy="410" r="5.22" fill="#f62d15"/>
<circle cx="2026.79" cy="326.25" r="5.22" fill="#f62d15"/>
<circle cx="2111.65" cy="324.25" r="5.22" fill="#f62d15"/>
<path d="M1941.92 379.5V423M2026.79 357.5V393M2111.65 266.75V434.5" stroke="#000" stroke-width="1.38" fill="none"/>
<path d="M1936.4 379.5h11.03M1936.4 423h11.03M2021.27 357.5h11.03M2021.27 393h11.03M2106.14 266.75h11.03M2106.14 434.5h11.03" stroke="#000" stroke-width="1.58" fill="none"/>
<path d="M1941.92 401.25L2026.79 375.75L2111.65 350.75" stroke="#000" stroke-width="2.66" fill="none" stroke-linejoin="round"/>
<circle cx="1941.92" cy="401.25" r="5.22" fill="#000"/>
<circle cx="2026.79" cy="375.75" r="5.22" fill="#000"/>
<circle cx="2111.65" cy="350.75" r="5.22" fill="#000"/>
</g>
<g class="chart">
<path d="M83.75 686.22V940.03" stroke="#000" stroke-width="2.56" fill="none"/>
<path d="M72.68 938.75H355.1" stroke="#000" stroke-width="2.56" fill="none"/>
<path d="M72.68 888.5H83.75M72.68 838.25H83.75M72.68 788H83.75M72.68 737.75H83.75M72.68 687.5H83.75M137.48 938.75V949.82M219.02 938.75V949.82M300.56 938.75V949.82" stroke="#000" stroke-width="2.56" fill="none"/>
<g font-size="18.93" text-anchor="end">
<text x="68.7" y="945.47">0.0</text>
<text x="68.7" y="895.22">0.5</text>
<text x="68.7" y="844.97">1.0</text>
<text x="68.7" y="794.72">1.5</text>
<text x="68.7" y="744.47">2.0</text>
<text x="68.7" y="694.22">2.5</text>
</g>
<g font-size="18.93" text-anchor="middle">
<text x="137.48" y="971.87">0</text>
<text x="219.02" y="971.87">30</text>
<text x="300.56" y="971.87">120</text>
</g>
<text font-size="20.16" text-anchor="middle" x="219.02" y="1000.64">Time (min)</text>
<text font-size="20.16" text-anchor="middle" transform="translate(16.25 813.12) rotate(-90)">Concentration (pmol/µl)</text>
<text font-size="23.66" text-anchor="middle" x="219.02" y="654.66">CA</text>
<path d="M137.48 708.75V819.5M219.02 745V800.5M300.56 777.25V829.25" stroke="#f62d15" stroke-width="1.32" fill="none"/>
<path d="M132.18 708.75h10.6M132.18 819.5h10.6M213.72 745h10.6M213.72 800.5h10.6M295.26 777.25h10.6M295.26 829.25h10.6" stroke="#f62d15" stroke-width="1.51" fill="none"/>
<path d="M137.48 763.75L219.02 773L300.56 803.25" stroke="#f62d15" stroke-width="2.56" fill="none" stroke-linejoin="round"/>
<circle cx="137.48" cy="763.75" r="5.02" fill="#f62d15"/>
<circle cx="219.02" cy="773" r="5.02" fill="#f62d15"/>
<circle cx="300.56" cy="803.25" r="5.02" fill="#f62d15"/>
<path d="M137.48 735V806.5M219.02 741.75V834.25M300.56 789V848.5" stroke="#000" stroke-width="1.32" fill="none"/>
<path d="M132.18 735h10.6M132.18 806.5h10.6M213.72 741.75h10.6M213.72 834.25h10.6M295.26 789h10.6M295.26 848.5h10.6" stroke="#000" stroke-width="1.51" fill="none"/>
<path d="M137.48 770.5L219.02 788.25L300.56 818.75" stroke="#000" stroke-width="2.56" fill="none" stroke-linejoin="round"/>
<circle cx="137.48" cy="770.5" r="5.02" fill="#000"/>
<circle cx="219.02" cy="788.25" r="5.02" fill="#000"/>
<circle cx="300.56" cy="818.75" r="5.02" fill="#000"/>
</g>
<g class="chart">
<path d="M495.5 671.88V944.62" stroke="#000" stroke-width="2.75" fill="none"/>
<path d="M483.6 943.25H787.1" stroke="#000" stroke-width="2.75" fill="none"/>
<path d="M483.6 853.25H495.5M483.6 763.25H495.5M483.6 673.25H495.5M553.24 943.25V955.15M640.86 943.25V955.15M728.49 943.25V955.15" stroke="#000" stroke-width="2.75" fill="none"/>
<g font-size="20.34" text-anchor="end">
<text x="479.33" y="950.47">0</text>
<text x="479.33" y="860.47">2</text>
<text x="479.33" y="770.47">4</text>
<text x="479.33" y="680.47">6</text>
</g>
<g font-size="20.34" text-anchor="middle">
<text x="553.24" y="978.84">0</text>
<text x="640.86" y="978.84">30</text>
<text x="728.49" y="978.84">120</text>
</g>
<text font-size="21.66" text-anchor="middle" x="640.86" y="1009.76">Time (min)</text>
<text font-size="21.66" text-anchor="middle" transform="translate(440.46 808.25) rotate(-90)">Concentration (pmol/µl)</text>
<text font-size="25.42" text-anchor="middle" x="640.86" y="637.96">UDCA</text>
<path d="M553.24 844.5V880.75M640.86 789V860M728.49 754.5V822.75" stroke="#f62d15" stroke-width="1.42" fill="none"/>
<path d="M547.54 844.5h11.39M547.54 880.75h11.39M635.17 789h11.39M635.17 860h11.39M722.79 754.5h11.39M722.79 822.75h11.39" stroke="#f62d15" stroke-width="1.63" fill="none"/>
<path d="M553.24 863L640.86 824.5L728.49 789" stroke="#f62d15" stroke-width="2.75" fill="none" stroke-linejoin="round"/>
<circle cx="553.24" cy="863" r="5.39" fill="#f62d15"/>
<circle cx="640.86" cy="824.5" r="5.39" fill="#f62d15"/>
<circle cx="728.49" cy="789" r="5.39" fill="#f62d15"/>
<path d="M553.24 815.75V895.5M640.86 835V894.75M728.49 726.75V805" stroke="#000" stroke-width="1.42" fill="none"/>
<path d="M547.54 815.75h11.39M547.54 895.5h11.39M635.17 835h11.39M635.17 894.75h11.39M722.79 726.75h11.39M722.79 805h11.39" stroke="#000" stroke-width="1.63" fill="none"/>
<path d="M553.24 855.5L640.86 865.5L728.49 766.25" stroke="#000" stroke-width="2.75" fill="none" stroke-linejoin="round"/>
<circle cx="553.24" cy="855.5" r="5.39" fill="#000"/>
<circle cx="640.86" cy="865.5" r="5.39" fill="#000"/>
<circle cx="728.49" cy="766.25" r="5.39" fill="#000"/>
</g>
<g class="chart">
<path d="M953.75 679.9V947.6" stroke="#000" stroke-width="2.69" fill="none"/>
<path d="M942.07 946.25H1239.95" stroke="#000" stroke-width="2.69" fill="none"/>
<path d="M942.07 893.25H953.75M942.07 840.25H953.75M942.07 787.25H953.75M942.07 734.25H953.75M942.07 681.25H953.75M1010.42 946.25V957.93M1096.42 946.25V957.93M1182.42 946.25V957.93" stroke="#000" stroke-width="2.69" fill="none"/>
<g font-size="19.96" text-anchor="end">
<text x="937.88" y="953.34">0</text>
<text x="937.88" y="900.34">5</text>
<text x="937.88" y="847.34">10</text>
<text x="937.88" y="794.34">15</text>
<text x="937.88" y="741.34">20</text>
<text x="937.88" y="688.34">25</text>
</g>
<g font-size="19.96" text-anchor="middle">
<text x="1010.42" y="981.18">0</text>
<text x="1096.42" y="981.18">30</text>
<text x="1182.42" y="981.18">120</text>
</g>
<text font-size="21.26" text-anchor="middle" x="1096.42" y="1011.53">Time (min)</text>
<text font-size="21.26" text-anchor="middle" transform="translate(887.84 813.75) rotate(-90)">Concentration (pmol/µl)</text>
<text font-size="24.95" text-anchor="middle" x="1096.42" y="646.62">DCA</text>
<path d="M1010.42 886.5V909.5M1096.42 830.75V881.5M1182.42 800.75V867" stroke="#f62d15" stroke-width="1.4" fill="none"/>
<path d="M1004.83 886.5h11.18M1004.83 909.5h11.18M1090.83 830.75h11.18M1090.83 881.5h11.18M1176.83 800.75h11.18M1176.83 867h11.18" stroke="#f62d15" stroke-width="1.6" fill="none"/>
<path d="M1010.42 898L1096.42 857L1182.42 834.25" stroke="#f62d15" stroke-width="2.69" fill="none" stroke-linejoin="round"/>
<circle cx="1010.42" cy="898" r="5.29" fill="#f62d15"/>
<circle cx="1096.42" cy="857" r="5.29" fill="#f62d15"/>
<circle cx="1182.42" cy="834.25" r="5.29" fill="#f62d15"/>
<path d="M1010.42 838.75V879.25M1096.42 820.5V874.5M1182.42 701.5V796.25" stroke="#000" stroke-width="1.4" fill="none"/>
<path d="M1004.83 838.75h11.18M1004.83 879.25h11.18M1090.83 820.5h11.18M1090.83 874.5h11.18M1176.83 701.5h11.18M1176.83 796.25h11.18" stroke="#000" stroke-width="1.6" fill="none"/>
<path d="M1010.42 859.25L1096.42 848L1182.42 748.75" stroke="#000" stroke-width="2.69" fill="none" stroke-linejoin="round"/>
<circle cx="1010.42" cy="859.25" r="5.29" fill="#000"/>
<circle cx="1096.42" cy="848" r="5.29" fill="#000"/>
<circle cx="1182.42" cy="748.75" r="5.29" fill="#000"/>
</g>
<g class="chart">
<path d="M1398.25 684.41V950.59" stroke="#000" stroke-width="2.68" fill="none"/>
<path d="M1386.64 949.25H1682.83" stroke="#000" stroke-width="2.68" fill="none"/>
<path d="M1386.64 861.42H1398.25M1386.64 773.58H1398.25M1386.64 685.75H1398.25M1454.6 949.25V960.86M1540.11 949.25V960.86M1625.63 949.25V960.86" stroke="#000" stroke-width="2.68" fill="none"/>
<g font-size="19.85" text-anchor="end">
<text x="1382.47" y="956.3">0.0</text>
<text x="1382.47" y="868.46">0.5</text>
<text x="1382.47" y="780.63">1.0</text>
<text x="1382.47" y="692.8">1.5</text>
</g>
<g font-size="19.85" text-anchor="middle">
<text x="1454.6" y="983.99">0</text>
<text x="1540.11" y="983.99">30</text>
<text x="1625.63" y="983.99">120</text>
</g>
<text font-size="21.14" text-anchor="middle" x="1540.11" y="1014.16">Time (min)</text>
<text font-size="21.14" text-anchor="middle" transform="translate(1327.8 817.5) rotate(-90)">Concentration (pmol/µl)</text>
<text font-size="24.81" text-anchor="middle" x="1540.11" y="651.31">3-oxo-CA</text>
<path d="M1454.6 747.75V785M1540.11 855.75V902.5M1625.63 856.75V897.5" stroke="#f62d15" stroke-width="1.39" fill="none"/>
<path d="M1449.04 747.75h11.12M1449.04 785h11.12M1534.56 855.75h11.12M1534.56 902.5h11.12M1620.07 856.75h11.12M1620.07 897.5h11.12" stroke="#f62d15" stroke-width="1.59" fill="none"/>
<path d="M1454.6 766.5L1540.11 879.25L1625.63 877.5" stroke="#f62d15" stroke-width="2.68" fill="none" stroke-linejoin="round"/>
<circle cx="1454.6" cy="766.5" r="5.26" fill="#f62d15"/>
<circle cx="1540.11" cy="879.25" r="5.26" fill="#f62d15"/>
<circle cx="1625.63" cy="877.5" r="5.26" fill="#f62d15"/>
<path d="M1454.6 754.5V805M1540.11 883.75V914.25M1625.63 877.5V905" stroke="#000" stroke-width="1.39" fill="none"/>
<path d="M1449.04 754.5h11.12M1449.04 805h11.12M1534.56 883.75h11.12M1534.56 914.25h11.12M1620.07 877.5h11.12M1620.07 905h11.12" stroke="#000" stroke-width="1.59" fill="none"/>
<path d="M1454.6 780L1540.11 899.25L1625.63 891.75" stroke="#000" stroke-width="2.68" fill="none" stroke-linejoin="round"/>
<circle cx="1454.6" cy="780" r="5.26" fill="#000"/>
<circle cx="1540.11" cy="899.25" r="5.26" fill="#000"/>
<circle cx="1625.63" cy="891.75" r="5.26" fill="#000"/>
</g>
<g class="chart">
<path d="M1868.75 700.66V966.34" stroke="#000" stroke-width="2.67" fill="none"/>
<path d="M1857.16 965H2152.79" stroke="#000" stroke-width="2.67" fill="none"/>
<path d="M1857.16 877.33H1868.75M1857.16 789.67H1868.75M1857.16 702H1868.75M1924.99 965V976.59M2010.34 965V976.59M2095.7 965V976.59" stroke="#000" stroke-width="2.67" fill="none"/>
<g font-size="19.81" text-anchor="end">
<text x="1853" y="972.03">0.0</text>
<text x="1853" y="884.37">0.5</text>
<text x="1853" y="796.7">1.0</text>
<text x="1853" y="709.03">1.5</text>
</g>
<g font-size="19.81" text-anchor="middle">
<text x="1924.99" y="999.67">0</text>
<text x="2010.34" y="999.67">30</text>
<text x="2095.7" y="999.67">120</text>
</g>
<text font-size="21.1" text-anchor="middle" x="2010.34" y="1029.78">Time (min)</text>
<text font-size="21.1" text-anchor="middle" transform="translate(1798.29 833.5) rotate(-90)">Concentration (pmol/µl)</text>
<text font-size="24.76" text-anchor="middle" x="2010.34" y="667.63">3-oxo-CDCA</text>
<path d="M1924.99 861.25V896.25M2010.34 821.75V869.5M2095.7 817.75V865" stroke="#f62d15" stroke-width="1.39" fill="none"/>
<path d="M1919.44 861.25h11.09M1919.44 896.25h11.09M2004.8 821.75h11.09M2004.8 869.5h11.09M2090.15 817.75h11.09M2090.15 865h11.09" stroke="#f62d15" stroke-width="1.58" fill="none"/>
<path d="M1924.99 879.25L2010.34 846.25L2095.7 841.25" stroke="#f62d15" stroke-width="2.67" fill="none" stroke-linejoin="round"/>
<circle cx="1924.99" cy="879.25" r="5.25" fill="#f62d15"/>
<circle cx="2010.34" cy="846.25" r="5.25" fill="#f62d15"/>
<circle cx="2095.7" cy="841.25" r="5.25" fill="#f62d15"/>
<path d="M1924.99 838.75V877.5M2010.34 821.75V870M2095.7 789.25V854.5" stroke="#000" stroke-width="1.39" fill="none"/>
<path d="M1919.44 838.75h11.09M1919.44 877.5h11.09M2004.8 821.75h11.09M2004.8 870h11.09M2090.15 789.25h11.09M2090.15 854.5h11.09" stroke="#000" stroke-width="1.58" fill="none"/>
<path d="M1924.99 858.25L2010.34 846.25L2095.7 822.5" stroke="#000" stroke-width="2.67" fill="none" stroke-linejoin="round"/>
<circle cx="1924.99" cy="858.25" r="5.25" fill="#000"/>
<circle cx="2010.34" cy="846.25" r="5.25" fill="#000"/>
<circle cx="2095.7" cy="822.5" r="5.25" fill="#000"/>
</g>
<g class="chart">
<path d="M86.25 1171.4V1439.35" stroke="#000" stroke-width="2.7" fill="none"/>
<path d="M74.56 1438H372.72" stroke="#000" stroke-width="2.7" fill="none"/>
<path d="M74.56 1371.69H86.25M74.56 1305.38H86.25M74.56 1239.06H86.25M74.56 1172.75H86.25M142.97 1438V1449.69M229.06 1438V1449.69M315.14 1438V1449.69" stroke="#000" stroke-width="2.7" fill="none"/>
<g font-size="19.98" text-anchor="end">
<text x="70.36" y="1445.09">0</text>
<text x="70.36" y="1378.78">10</text>
<text x="70.36" y="1312.47">20</text>
<text x="70.36" y="1246.16">30</text>
<text x="70.36" y="1179.84">40</text>
</g>
<g font-size="19.98" text-anchor="middle">
<text x="142.97" y="1472.97">0</text>
<text x="229.06" y="1472.97">30</text>
<text x="315.14" y="1472.97">120</text>
</g>
<text font-size="21.28" text-anchor="middle" x="229.06" y="1503.34">Time (min)</text>
<text font-size="21.28" text-anchor="middle" transform="translate(20.34 1305.38) rotate(-90)">Concentration (pmol/µl)</text>
<text font-size="24.98" text-anchor="middle" x="229.06" y="1138.08">Total T BAs</text>
<path d="M142.97 1402.5V1419.5M229.06 1318.5V1390.25M315.14 1285V1402.5" stroke="#f62d15" stroke-width="1.4" fill="none"/>
<path d="M137.38 1402.5h11.19M137.38 1419.5h11.19M223.46 1318.5h11.19M223.46 1390.25h11.19M309.54 1285h11.19M309.54 1402.5h11.19" stroke="#f62d15" stroke-width="1.6" fill="none"/>
<path d="M142.97 1411.25L229.06 1355L315.14 1344" stroke="#f62d15" stroke-width="2.7" fill="none" stroke-linejoin="round"/>
<circle cx="142.97" cy="1411.25" r="5.3" fill="#f62d15"/>
<circle cx="229.06" cy="1355" r="5.3" fill="#f62d15"/>
<circle cx="315.14" cy="1344" r="5.3" fill="#f62d15"/>
<path d="M142.97 1378.75V1427.5M229.06 1369.75V1410.25M315.14 1207.5V1431.75" stroke="#000" stroke-width="1.4" fill="none"/>
<path d="M137.38 1378.75h11.19M137.38 1427.5h11.19M223.46 1369.75h11.19M223.46 1410.25h11.19M309.54 1207.5h11.19M309.54 1431.75h11.19" stroke="#000" stroke-width="1.6" fill="none"/>
<path d="M142.97 1403.25L229.06 1390.25L315.14 1319.75" stroke="#000" stroke-width="2.7" fill="none" stroke-linejoin="round"/>
<circle cx="142.97" cy="1403.25" r="5.3" fill="#000"/>
<circle cx="229.06" cy="1390.25" r="5.3" fill="#000"/>
<circle cx="315.14" cy="1319.75" r="5.3" fill="#000"/>
</g>
<g class="chart">
<path d="M537.5 1184.68V1447.32" stroke="#000" stroke-width="2.64" fill="none"/>
<path d="M526.04 1446H818.3" stroke="#000" stroke-width="2.64" fill="none"/>
<path d="M526.04 1394H537.5M526.04 1342H537.5M526.04 1290H537.5M526.04 1238H537.5M526.04 1186H537.5M593.1 1446V1457.46M677.48 1446V1457.46M761.86 1446V1457.46" stroke="#000" stroke-width="2.64" fill="none"/>
<g font-size="19.59" text-anchor="end">
<text x="521.93" y="1452.95">0</text>
<text x="521.93" y="1400.95">20</text>
<text x="521.93" y="1348.95">40</text>
<text x="521.93" y="1296.95">60</text>
<text x="521.93" y="1244.95">80</text>
<text x="521.93" y="1192.95">100</text>
</g>
<g font-size="19.59" text-anchor="middle">
<text x="593.1" y="1480.27">0</text>
<text x="677.48" y="1480.27">30</text>
<text x="761.86" y="1480.27">120</text>
</g>
<text font-size="20.86" text-anchor="middle" x="677.48" y="1510.05">Time (min)</text>
<text font-size="20.86" text-anchor="middle" transform="translate(462.71 1316) rotate(-90)">Concentration (pmol/µl)</text>
<text font-size="24.48" text-anchor="middle" x="677.48" y="1152.02">Total G BAs</text>
<path d="M593.1 1363.75V1405.75M677.48 1249.5V1313M761.86 1200V1364.5" stroke="#f62d15" stroke-width="1.37" fill="none"/>
<path d="M587.61 1363.75h10.97M587.61 1405.75h10.97M671.99 1249.5h10.97M671.99 1313h10.97M756.38 1200h10.97M756.38 1364.5h10.97" stroke="#f62d15" stroke-width="1.57" fill="none"/>
<path d="M593.1 1384.75L677.48 1280.75L761.86 1282" stroke="#f62d15" stroke-width="2.64" fill="none" stroke-linejoin="round"/>
<circle cx="593.1" cy="1384.75" r="5.19" fill="#f62d15"/>
<circle cx="677.48" cy="1280.75" r="5.19" fill="#f62d15"/>
<circle cx="761.86" cy="1282" r="5.19" fill="#f62d15"/>
<path d="M593.1 1350V1398.75M677.48 1319.25V1362M761.86 1249V1413.25" stroke="#000" stroke-width="1.37" fill="none"/>
<path d="M587.61 1350h10.97M587.61 1398.75h10.97M671.99 1319.25h10.97M671.99 1362h10.97M756.38 1249h10.97M756.38 1413.25h10.97" stroke="#000" stroke-width="1.57" fill="none"/>
<path d="M593.1 1374.25L677.48 1341.25L761.86 1331.25" stroke="#000" stroke-width="2.64" fill="none" stroke-linejoin="round"/>
<circle cx="593.1" cy="1374.25" r="5.19" fill="#000"/>
<circle cx="677.48" cy="1341.25" r="5.19" fill="#000"/>
<circle cx="761.86" cy="1331.25" r="5.19" fill="#000"/>
</g>
<g class="chart">
<path d="M959.5 1185.65V1453.85" stroke="#000" stroke-width="2.7" fill="none"/>
<path d="M947.8 1452.5H1246.24" stroke="#000" stroke-width="2.7" fill="none"/>
<path d="M947.8 1364H959.5M947.8 1275.5H959.5M947.8 1187H959.5M1016.27 1452.5V1464.2M1102.44 1452.5V1464.2M1188.61 1452.5V1464.2" stroke="#000" stroke-width="2.7" fill="none"/>
<g font-size="20" text-anchor="end">
<text x="943.6" y="1459.6">0</text>
<text x="943.6" y="1371.1">20</text>
<text x="943.6" y="1282.6">40</text>
<text x="943.6" y="1194.1">60</text>
</g>
<g font-size="20" text-anchor="middle">
<text x="1016.27" y="1487.5">0</text>
<text x="1102.44" y="1487.5">30</text>
<text x="1188.61" y="1487.5">120</text>
</g>
<text font-size="21.3" text-anchor="middle" x="1102.44" y="1517.9">Time (min)</text>
<text font-size="21.3" text-anchor="middle" transform="translate(894.1 1319.75) rotate(-90)">Concentration (pmol/µl)</text>
<text font-size="25" text-anchor="middle" x="1102.44" y="1152.3">GCA</text>
<path d="M1016.27 1389.5V1424.5M1102.44 1211.5V1323M1188.61 1230.5V1392.25" stroke="#f62d15" stroke-width="1.4" fill="none"/>
<path d="M1010.67 1389.5h11.2M1010.67 1424.5h11.2M1096.84 1211.5h11.2M1096.84 1323h11.2M1183.01 1230.5h11.2M1183.01 1392.25h11.2" stroke="#f62d15" stroke-width="1.6" fill="none"/>
<path d="M1016.27 1407L1102.44 1267.5L1188.61 1311.5" stroke="#f62d15" stroke-width="2.7" fill="none" stroke-linejoin="round"/>
<circle cx="1016.27" cy="1407" r="5.3" fill="#f62d15"/>
<circle cx="1102.44" cy="1267.5" r="5.3" fill="#f62d15"/>
<circle cx="1188.61" cy="1311.5" r="5.3" fill="#f62d15"/>
<path d="M1016.27 1347V1416.25M1102.44 1330.75V1378.5M1188.61 1235V1436.75" stroke="#000" stroke-width="1.4" fill="none"/>
<path d="M1010.67 1347h11.2M1010.67 1416.25h11.2M1096.84 1330.75h11.2M1096.84 1378.5h11.2M1183.01 1235h11.2M1183.01 1436.75h11.2" stroke="#000" stroke-width="1.6" fill="none"/>
<path d="M1016.27 1381.75L1102.44 1355L1188.61 1336.25" stroke="#000" stroke-width="2.7" fill="none" stroke-linejoin="round"/>
<circle cx="1016.27" cy="1381.75" r="5.3" fill="#000"/>
<circle cx="1102.44" cy="1355" r="5.3" fill="#000"/>
<circle cx="1188.61" cy="1336.25" r="5.3" fill="#000"/>
</g>
<g class="chart">
<path d="M1396.25 1188.65V1456.85" stroke="#000" stroke-width="2.7" fill="none"/>
<path d="M1384.55 1455.5H1682.99" stroke="#000" stroke-width="2.7" fill="none"/>
<path d="M1384.55 1402.4H1396.25M1384.55 1349.3H1396.25M1384.55 1296.2H1396.25M1384.55 1243.1H1396.25M1384.55 1190H1396.25M1453.02 1455.5V1467.2M1539.19 1455.5V1467.2M1625.36 1455.5V1467.2" stroke="#000" stroke-width="2.7" fill="none"/>
<g font-size="20" text-anchor="end">
<text x="1380.35" y="1462.6">0</text>
<text x="1380.35" y="1409.5">5</text>
<text x="1380.35" y="1356.4">10</text>
<text x="1380.35" y="1303.3">15</text>
<text x="1380.35" y="1250.2">20</text>
<text x="1380.35" y="1197.1">25</text>
</g>
<g font-size="20" text-anchor="middle">
<text x="1453.02" y="1490.5">0</text>
<text x="1539.19" y="1490.5">30</text>
<text x="1625.36" y="1490.5">120</text>
</g>
<text font-size="21.3" text-anchor="middle" x="1539.19" y="1520.9">Time (min)</text>
<text font-size="21.3" text-anchor="middle" transform="translate(1329.85 1322.75) rotate(-90)">Concentration (pmol/µl)</text>
<text font-size="25" text-anchor="middle" x="1539.19" y="1155.3">GDCA</text>
<path d="M1453.02 1355.5V1415M1539.19 1324.75V1367M1625.36 1223.25V1379.25" stroke="#f62d15" stroke-width="1.4" fill="none"/>
<path d="M1447.42 1355.5h11.2M1447.42 1415h11.2M1533.59 1324.75h11.2M1533.59 1367h11.2M1619.76 1223.25h11.2M1619.76 1379.25h11.2" stroke="#f62d15" stroke-width="1.6" fill="none"/>
<path d="M1453.02 1385.5L1539.19 1346.25L1625.36 1301.25" stroke="#f62d15" stroke-width="2.7" fill="none" stroke-linejoin="round"/>
<circle cx="1453.02" cy="1385.5" r="5.3" fill="#f62d15"/>
<circle cx="1539.19" cy="1346.25" r="5.3" fill="#f62d15"/>
<circle cx="1625.36" cy="1301.25" r="5.3" fill="#f62d15"/>
<path d="M1453.02 1359.5V1404.75M1539.19 1326.25V1388.5M1625.36 1323V1414.25" stroke="#000" stroke-width="1.4" fill="none"/>
<path d="M1447.42 1359.5h11.2M1447.42 1404.75h11.2M1533.59 1326.25h11.2M1533.59 1388.5h11.2M1619.76 1323h11.2M1619.76 1414.25h11.2" stroke="#000" stroke-width="1.6" fill="none"/>
<path d="M1453.02 1381.75L1539.19 1357.5L1625.36 1369.25" stroke="#000" stroke-width="2.7" fill="none" stroke-linejoin="round"/>
<circle cx="1453.02" cy="1381.75" r="5.3" fill="#000"/>
<circle cx="1539.19" cy="1357.5" r="5.3" fill="#000"/>
<circle cx="1625.36" cy="1369.25" r="5.3" fill="#000"/>
</g>
<g class="chart">
<path d="M1885 1208.21V1464.29" stroke="#000" stroke-width="2.58" fill="none"/>
<path d="M1873.83 1463H2158.78" stroke="#000" stroke-width="2.58" fill="none"/>
<path d="M1873.83 1412.3H1885M1873.83 1361.6H1885M1873.83 1310.9H1885M1873.83 1260.2H1885M1873.83 1209.5H1885M1939.21 1463V1474.17M2021.48 1463V1474.17M2103.75 1463V1474.17" stroke="#000" stroke-width="2.58" fill="none"/>
<g font-size="19.1" text-anchor="end">
<text x="1869.82" y="1469.78">0</text>
<text x="1869.82" y="1419.08">5</text>
<text x="1869.82" y="1368.38">10</text>
<text x="1869.82" y="1317.68">15</text>
<text x="1869.82" y="1266.98">20</text>
<text x="1869.82" y="1216.28">25</text>
</g>
<g font-size="19.1" text-anchor="middle">
<text x="1939.21" y="1496.42">0</text>
<text x="2021.48" y="1496.42">30</text>
<text x="2103.75" y="1496.42">120</text>
</g>
<text font-size="20.34" text-anchor="middle" x="2021.48" y="1525.44">Time (min)</text>
<text font-size="20.34" text-anchor="middle" transform="translate(1821.8 1336.25) rotate(-90)">Concentration (pmol/µl)</text>
<text font-size="23.87" text-anchor="middle" x="2021.48" y="1176.37">GCDCA</text>
<path d="M1939.21 1392V1425.75M2021.48 1358.5V1397M2103.75 1252.5V1372" stroke="#f62d15" stroke-width="1.34" fill="none"/>
<path d="M1933.86 1392h10.69M1933.86 1425.75h10.69M2016.13 1358.5h10.69M2016.13 1397h10.69M2098.4 1252.5h10.69M2098.4 1372h10.69" stroke="#f62d15" stroke-width="1.53" fill="none"/>
<path d="M1939.21 1408.75L2021.48 1377.5L2103.75 1312.5" stroke="#f62d15" stroke-width="2.58" fill="none" stroke-linejoin="round"/>
<circle cx="1939.21" cy="1408.75" r="5.06" fill="#f62d15"/>
<circle cx="2021.48" cy="1377.5" r="5.06" fill="#f62d15"/>
<circle cx="2103.75" cy="1312.5" r="5.06" fill="#f62d15"/>
<path d="M1939.21 1406.25V1430M2021.48 1345V1397M2103.75 1311V1413.75" stroke="#000" stroke-width="1.34" fill="none"/>
<path d="M1933.86 1406.25h10.69M1933.86 1430h10.69M2016.13 1345h10.69M2016.13 1397h10.69M2098.4 1311h10.69M2098.4 1413.75h10.69" stroke="#000" stroke-width="1.53" fill="none"/>
<path d="M1939.21 1418.25L2021.48 1371.25L2103.75 1362.5" stroke="#000" stroke-width="2.58" fill="none" stroke-linejoin="round"/>
<circle cx="1939.21" cy="1418.25" r="5.06" fill="#000"/>
<circle cx="2021.48" cy="1371.25" r="5.06" fill="#000"/>
<circle cx="2103.75" cy="1362.5" r="5.06" fill="#000"/>
</g>
<g class="chart">
<path d="M82.5 1699.65V1967.85" stroke="#000" stroke-width="2.7" fill="none"/>
<path d="M70.8 1966.5H369.24" stroke="#000" stroke-width="2.7" fill="none"/>
<path d="M70.8 1878H82.5M70.8 1789.5H82.5M70.8 1701H82.5M139.27 1966.5V1978.2M225.44 1966.5V1978.2M311.61 1966.5V1978.2" stroke="#000" stroke-width="2.7" fill="none"/>
<g font-size="20" text-anchor="end">
<text x="66.6" y="1973.6">0</text>
<text x="66.6" y="1885.1">5</text>
<text x="66.6" y="1796.6">10</text>
<text x="66.6" y="1708.1">15</text>
</g>
<g font-size="20" text-anchor="middle">
<text x="139.27" y="2001.5">0</text>
<text x="225.44" y="2001.5">30</text>
<text x="311.61" y="2001.5">120</text>
</g>
<text font-size="21.3" text-anchor="middle" x="225.44" y="2031.9">Time (min)</text>
<text font-size="21.3" text-anchor="middle" transform="translate(17.1 1833.75) rotate(-90)">Concentration (pmol/µl)</text>
<text font-size="25" text-anchor="middle" x="225.44" y="1666.3">TCA</text>
<path d="M139.27 1945.5V1956.5M225.44 1888.5V1940.25M311.61 1872.25V1949.5" stroke="#f62d15" stroke-width="1.4" fill="none"/>
<path d="M133.67 1945.5h11.2M133.67 1956.5h11.2M219.84 1888.5h11.2M219.84 1940.25h11.2M306.01 1872.25h11.2M306.01 1949.5h11.2" stroke="#f62d15" stroke-width="1.6" fill="none"/>
<path d="M139.27 1951L225.44 1914.75L311.61 1911" stroke="#f62d15" stroke-width="2.7" fill="none" stroke-linejoin="round"/>
<circle cx="139.27" cy="1951" r="5.3" fill="#f62d15"/>
<circle cx="225.44" cy="1914.75" r="5.3" fill="#f62d15"/>
<circle cx="311.61" cy="1911" r="5.3" fill="#f62d15"/>
<path d="M139.27 1901.75V1964M225.44 1909V1957.5M311.61 1731V1966.5" stroke="#000" stroke-width="1.4" fill="none"/>
<path d="M133.67 1901.75h11.2M133.67 1964h11.2M219.84 1909h11.2M219.84 1957.5h11.2M306.01 1731h11.2M306.01 1966.5h11.2" stroke="#000" stroke-width="1.6" fill="none"/>
<path d="M139.27 1933L225.44 1933.25L311.61 1848.5" stroke="#000" stroke-width="2.7" fill="none" stroke-linejoin="round"/>
<circle cx="139.27" cy="1933" r="5.3" fill="#000"/>
<circle cx="225.44" cy="1933.25" r="5.3" fill="#000"/>
<circle cx="311.61" cy="1848.5" r="5.3" fill="#000"/>
</g>
<g class="chart">
<path d="M528.75 1708.91V1974.59" stroke="#000" stroke-width="2.67" fill="none"/>
<path d="M517.16 1973.25H812.79" stroke="#000" stroke-width="2.67" fill="none"/>
<path d="M517.16 1920.65H528.75M517.16 1868.05H528.75M517.16 1815.45H528.75M517.16 1762.85H528.75M517.16 1710.25H528.75M584.99 1973.25V1984.84M670.34 1973.25V1984.84M755.7 1973.25V1984.84" stroke="#000" stroke-width="2.67" fill="none"/>
<g font-size="19.81" text-anchor="end">
<text x="513" y="1980.28">0.0</text>
<text x="513" y="1927.68">0.2</text>
<text x="513" y="1875.08">0.4</text>
<text x="513" y="1822.48">0.6</text>
<text x="513" y="1769.88">0.8</text>
<text x="513" y="1717.28">1.0</text>
</g>
<g font-size="19.81" text-anchor="middle">
<text x="584.99" y="2007.92">0</text>
<text x="670.34" y="2007.92">30</text>
<text x="755.7" y="2007.92">120</text>
</g>
<text font-size="21.1" text-anchor="middle" x="670.34" y="2038.03">Time (min)</text>
<text font-size="21.1" text-anchor="middle" transform="translate(457.79 1841.75) rotate(-90)">Concentration (pmol/µl)</text>
<text font-size="24.76" text-anchor="middle" x="670.34" y="1675.88">TwMCA</text>
<path d="M584.99 1919.25V1950.25M670.34 1911V1943.5M755.7 1834.25V1945.5" stroke="#f62d15" stroke-width="1.39" fill="none"/>
<path d="M579.44 1919.25h11.09M579.44 1950.25h11.09M664.8 1911h11.09M664.8 1943.5h11.09M750.15 1834.25h11.09M750.15 1945.5h11.09" stroke="#f62d15" stroke-width="1.58" fill="none"/>
<path d="M584.99 1934.75L670.34 1927L755.7 1890" stroke="#f62d15" stroke-width="2.67" fill="none" stroke-linejoin="round"/>
<circle cx="584.99" cy="1934.75" r="5.25" fill="#f62d15"/>
<circle cx="670.34" cy="1927" r="5.25" fill="#f62d15"/>
<circle cx="755.7" cy="1890" r="5.25" fill="#f62d15"/>
<path d="M584.99 1865.75V1958.25M670.34 1896.25V1974.5M755.7 1729V1973.25" stroke="#000" stroke-width="1.39" fill="none"/>
<path d="M579.44 1865.75h11.09M579.44 1958.25h11.09M664.8 1896.25h11.09M664.8 1974.5h11.09M750.15 1729h11.09M750.15 1973.25h11.09" stroke="#000" stroke-width="1.58" fill="none"/>
<path d="M584.99 1911.5L670.34 1936L755.7 1851.5" stroke="#000" stroke-width="2.67" fill="none" stroke-linejoin="round"/>
<circle cx="584.99" cy="1911.5" r="5.25" fill="#000"/>
<circle cx="670.34" cy="1936" r="5.25" fill="#000"/>
<circle cx="755.7" cy="1851.5" r="5.25" fill="#000"/>
</g>
<g class="chart">
<path d="M948.25 1713.16V1979.34" stroke="#000" stroke-width="2.68" fill="none"/>
<path d="M936.64 1978H1232.83" stroke="#000" stroke-width="2.68" fill="none"/>
<path d="M936.64 1912.12H948.25M936.64 1846.25H948.25M936.64 1780.38H948.25M936.64 1714.5H948.25M1004.6 1978V1989.61M1090.11 1978V1989.61M1175.63 1978V1989.61" stroke="#000" stroke-width="2.68" fill="none"/>
<g font-size="19.85" text-anchor="end">
<text x="932.47" y="1985.05">0.0</text>
<text x="932.47" y="1919.17">0.2</text>
<text x="932.47" y="1853.3">0.4</text>
<text x="932.47" y="1787.42">0.6</text>
<text x="932.47" y="1721.55">0.8</text>
</g>
<g font-size="19.85" text-anchor="middle">
<text x="1004.6" y="2012.74">0</text>
<text x="1090.11" y="2012.74">30</text>
<text x="1175.63" y="2012.74">120</text>
</g>
<text font-size="21.14" text-anchor="middle" x="1090.11" y="2042.91">Time (min)</text>
<text font-size="21.14" text-anchor="middle" transform="translate(877.8 1846.25) rotate(-90)">Concentration (pmol/µl)</text>
<text font-size="24.81" text-anchor="middle" x="1090.11" y="1680.06">TUDCA</text>
<path d="M1004.6 1906.5V1939.5M1090.11 1842.75V1897.25M1175.63 1782.5V1908.25" stroke="#f62d15" stroke-width="1.39" fill="none"/>
<path d="M999.04 1906.5h11.12M999.04 1939.5h11.12M1084.56 1842.75h11.12M1084.56 1897.25h11.12M1170.07 1782.5h11.12M1170.07 1908.25h11.12" stroke="#f62d15" stroke-width="1.59" fill="none"/>
<path d="M1004.6 1922.75L1090.11 1869.75L1175.63 1845.75" stroke="#f62d15" stroke-width="2.68" fill="none" stroke-linejoin="round"/>
<circle cx="1004.6" cy="1922.75" r="5.26" fill="#f62d15"/>
<circle cx="1090.11" cy="1869.75" r="5.26" fill="#f62d15"/>
<circle cx="1175.63" cy="1845.75" r="5.26" fill="#f62d15"/>
<path d="M1004.6 1892.25V1952M1090.11 1889.75V1947.5M1175.63 1798V1951.75" stroke="#000" stroke-width="1.39" fill="none"/>
<path d="M999.04 1892.25h11.12M999.04 1952h11.12M1084.56 1889.75h11.12M1084.56 1947.5h11.12M1170.07 1798h11.12M1170.07 1951.75h11.12" stroke="#000" stroke-width="1.59" fill="none"/>
<path d="M1004.6 1922.25L1090.11 1919L1175.63 1875.25" stroke="#000" stroke-width="2.68" fill="none" stroke-linejoin="round"/>
<circle cx="1004.6" cy="1922.25" r="5.26" fill="#000"/>
<circle cx="1090.11" cy="1919" r="5.26" fill="#000"/>
<circle cx="1175.63" cy="1875.25" r="5.26" fill="#000"/>
</g>
<g class="chart">
<path d="M1395.75 1715.4V1983.85" stroke="#000" stroke-width="2.7" fill="none"/>
<path d="M1384.04 1982.5H1682.76" stroke="#000" stroke-width="2.7" fill="none"/>
<path d="M1384.04 1893.92H1395.75M1384.04 1805.33H1395.75M1384.04 1716.75H1395.75M1452.58 1982.5V1994.21M1538.82 1982.5V1994.21M1625.07 1982.5V1994.21" stroke="#000" stroke-width="2.7" fill="none"/>
<g font-size="20.02" text-anchor="end">
<text x="1379.84" y="1989.61">0</text>
<text x="1379.84" y="1901.02">5</text>
<text x="1379.84" y="1812.44">10</text>
<text x="1379.84" y="1723.86">15</text>
</g>
<g font-size="20.02" text-anchor="middle">
<text x="1452.58" y="2017.53">0</text>
<text x="1538.82" y="2017.53">30</text>
<text x="1625.07" y="2017.53">120</text>
</g>
<text font-size="21.32" text-anchor="middle" x="1538.82" y="2047.96">Time (min)</text>
<text font-size="21.32" text-anchor="middle" transform="translate(1329.11 1849.62) rotate(-90)">Concentration (pmol/µl)</text>
<text font-size="25.02" text-anchor="middle" x="1538.82" y="1682.02">TCDCA</text>
<path d="M1452.58 1943.5V1964M1538.82 1825V1925.25M1625.07 1829V1937" stroke="#f62d15" stroke-width="1.4" fill="none"/>
<path d="M1446.97 1943.5h11.21M1446.97 1964h11.21M1533.22 1825h11.21M1533.22 1925.25h11.21M1619.47 1829h11.21M1619.47 1937h11.21" stroke="#f62d15" stroke-width="1.6" fill="none"/>
<path d="M1452.58 1953.5L1538.82 1875.25L1625.07 1883.25" stroke="#f62d15" stroke-width="2.7" fill="none" stroke-linejoin="round"/>
<circle cx="1452.58" cy="1953.5" r="5.3" fill="#f62d15"/>
<circle cx="1538.82" cy="1875.25" r="5.3" fill="#f62d15"/>
<circle cx="1625.07" cy="1883.25" r="5.3" fill="#f62d15"/>
<path d="M1452.58 1939V1967.25M1538.82 1925.25V1954.5M1625.07 1792.75V1976.75" stroke="#000" stroke-width="1.4" fill="none"/>
<path d="M1446.97 1939h11.21M1446.97 1967.25h11.21M1533.22 1925.25h11.21M1533.22 1954.5h11.21M1619.47 1792.75h11.21M1619.47 1976.75h11.21" stroke="#000" stroke-width="1.6" fill="none"/>
<path d="M1452.58 1953.5L1538.82 1939.75L1625.07 1885.25" stroke="#000" stroke-width="2.7" fill="none" stroke-linejoin="round"/>
<circle cx="1452.58" cy="1953.5" r="5.3" fill="#000"/>
<circle cx="1538.82" cy="1939.75" r="5.3" fill="#000"/>
<circle cx="1625.07" cy="1885.25" r="5.3" fill="#000"/>
</g>
<g class="chart">
<path d="M1865 1715.9V1984.1" stroke="#000" stroke-width="2.7" fill="none"/>
<path d="M1853.3 1982.75H2151.74" stroke="#000" stroke-width="2.7" fill="none"/>
<path d="M1853.3 1894.25H1865M1853.3 1805.75H1865M1853.3 1717.25H1865M1921.77 1982.75V1994.45M2007.94 1982.75V1994.45M2094.11 1982.75V1994.45" stroke="#000" stroke-width="2.7" fill="none"/>
<g font-size="20" text-anchor="end">
<text x="1849.1" y="1989.85">0</text>
<text x="1849.1" y="1901.35">5</text>
<text x="1849.1" y="1812.85">10</text>
<text x="1849.1" y="1724.35">15</text>
</g>
<g font-size="20" text-anchor="middle">
<text x="1921.77" y="2017.75">0</text>
<text x="2007.94" y="2017.75">30</text>
<text x="2094.11" y="2017.75">120</text>
</g>
<text font-size="21.3" text-anchor="middle" x="2007.94" y="2048.15">Time (min)</text>
<text font-size="21.3" text-anchor="middle" transform="translate(1799.1 1850) rotate(-90)">Concentration (pmol/µl)</text>
<text font-size="25" text-anchor="middle" x="2007.94" y="1682.55">TDCA</text>
<path d="M1921.77 1950.5V1971M2007.94 1909V1956.5M2094.11 1848V1958.5" stroke="#f62d15" stroke-width="1.4" fill="none"/>
<path d="M1916.17 1950.5h11.2M1916.17 1971h11.2M2002.34 1909h11.2M2002.34 1956.5h11.2M2088.51 1848h11.2M2088.51 1958.5h11.2" stroke="#f62d15" stroke-width="1.6" fill="none"/>
<path d="M1921.77 1960.25L2007.94 1933.25L2094.11 1903.5" stroke="#f62d15" stroke-width="2.7" fill="none" stroke-linejoin="round"/>
<circle cx="1921.77" cy="1960.25" r="5.3" fill="#f62d15"/>
<circle cx="2007.94" cy="1933.25" r="5.3" fill="#f62d15"/>
<circle cx="2094.11" cy="1903.5" r="5.3" fill="#f62d15"/>
<path d="M1921.77 1946.25V1973.5M2007.94 1932V1959.5M2094.11 1834.5V1980" stroke="#000" stroke-width="1.4" fill="none"/>
<path d="M1916.17 1946.25h11.2M1916.17 1973.5h11.2M2002.34 1932h11.2M2002.34 1959.5h11.2M2088.51 1834.5h11.2M2088.51 1980h11.2" stroke="#000" stroke-width="1.6" fill="none"/>
<path d="M1921.77 1959.5L2007.94 1945.25L2094.11 1907" stroke="#000" stroke-width="2.7" fill="none" stroke-linejoin="round"/>
<circle cx="1921.77" cy="1959.5" r="5.3" fill="#000"/>
<circle cx="2007.94" cy="1945.25" r="5.3" fill="#000"/>
<circle cx="2094.11" cy="1907" r="5.3" fill="#000"/>
</g>
</svg>
</body>
</html>
